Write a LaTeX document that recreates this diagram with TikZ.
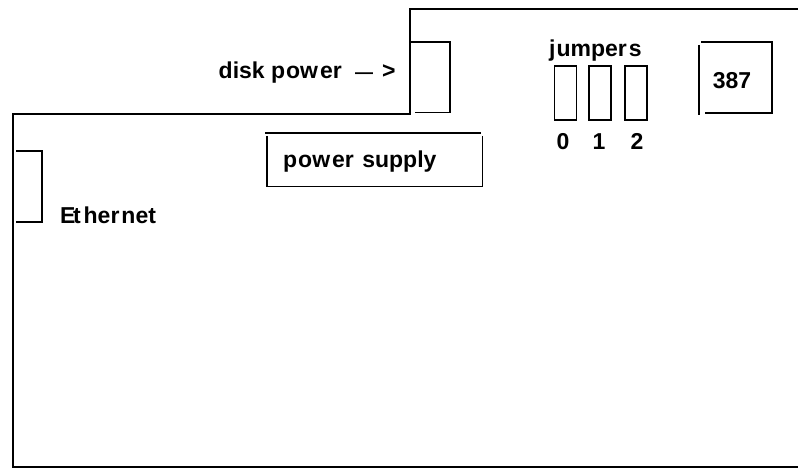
\documentclass[tikz,border=0pt]{standalone}
\usepackage{fontspec}
\setmainfont{Liberation Sans}
\tikzset{
  wire/.style={line width=1.5pt,black,line cap=butt},
  jumperbox/.style={draw=black,line width=1.4pt,minimum width=22pt,minimum height=54pt,inner sep=0pt},
  lbl/.style={inner sep=0pt,font=\fontsize{23}{26}\selectfont\bfseries,text=black},
}
\begin{document}
\begin{tikzpicture}[x=1pt,y=-1pt]
\useasboundingbox (0,0) rectangle (798,470);
% outline
\draw[wire] (798,9) -- (410,9) -- (410,114) -- (13,114) -- (13,467) -- (798,467);
% disk power connector
\draw[wire] (411,42) -- (450,42) -- (450,112.5) -- (415,112.5);
% power supply
\draw[wire] (265,133) -- (481,133);
\draw[wire] (482.5,136) -- (482.5,186.5) -- (266,186.5);
\draw[wire] (267,136) -- (267,186);
% ethernet
\draw[wire] (16,151) -- (42,151) -- (42,222) -- (16,222);
% jumpers
\node[jumperbox] (j0) at (565.5,93) {};
\node[jumperbox] (j1) at (600,93) {};
\node[jumperbox] (j2) at (636,93) {};
% 387
\draw[wire] (701,42) -- (772,42) -- (772,113) -- (705,113);
\draw[wire] (699,45) -- (699,115);
% text
\node[lbl,anchor=base west] (dp) at (218.5,79) {disk p\kern1pt ow\kern2pt er};
\node[lbl,anchor=base west] (arr) at (355,79) {{\fontsize{18}{20}\selectfont —}\kern9pt >};
\node[lbl,anchor=base west] (ps) at (283,168) {p\kern1pt ow\kern2pt er\kern2pt\ supply};
\node[lbl,anchor=base west] (et) at (60,224) {E\kern-2.5ptt\kern3pt her\kern2pt net};
\node[lbl,anchor=base west] (ju) at (549,57) {j\kern1pt umper\kern2pt s};
\node[lbl,anchor=base] (n0) at (563,150) {0};
\node[lbl,anchor=base] (n1) at (599,150) {1};
\node[lbl,anchor=base] (n2) at (637,150) {2};
\node[lbl,anchor=base] (c) at (732,89) {387};
\end{tikzpicture}
\end{document}
